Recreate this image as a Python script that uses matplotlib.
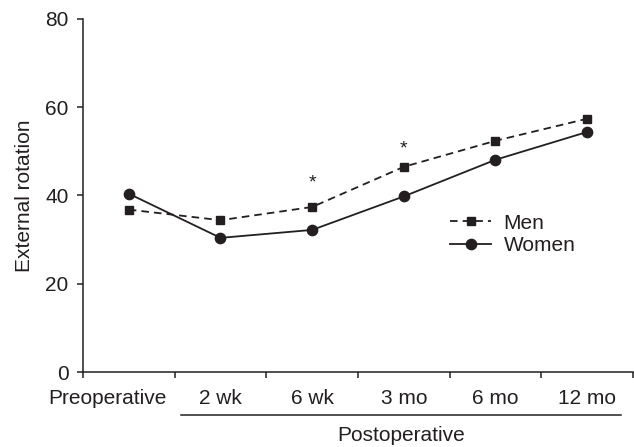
import matplotlib
matplotlib.use("Agg")
import matplotlib.pyplot as plt

categories = ["Preoperative", "2 wk", "6 wk", "3 mo", "6 mo", "12 mo"]
men = [36.8, 34.4, 37.4, 46.5, 52.4, 57.4]
women = [40.4, 30.4, 32.2, 39.8, 48.1, 54.4]
star_idx = [2, 3]
star_y = [42.8, 50.5]
yticks = [0, 20, 40, 60, 80]

C = "#231f20"
FS = 15
plt.rcParams['font.family'] = ['Liberation Sans', 'DejaVu Sans']

fig = plt.figure(figsize=(6.34, 4.47), dpi=100)
ax = fig.add_axes([83/634, 1-372/447, (633-83)/634, (372-19)/447])

x = list(range(len(categories)))
ax.plot(x, men, color=C, lw=1.3, ls=(0, (4.2, 2.8)), marker='s', ms=6.2, label="Men")
ax.plot(x, women, color=C, lw=1.3, ls='-', marker='o', ms=7.4, label="Women")
for i, yv in zip(star_idx, star_y):
    ax.text(i, yv, "*", ha='center', va='center', fontsize=FS - 1, color=C)

ax.set_xlim(-0.5, len(categories) - 0.5)
ax.set_ylim(0, 80)
ax.set_yticks(yticks)
ax.set_xticks([i + 0.5 for i in range(-1, len(categories))])
ax.set_xticklabels([])
for s in ['top', 'right']:
    ax.spines[s].set_visible(False)
for s in ['left', 'bottom']:
    ax.spines[s].set_color(C)
    ax.spines[s].set_linewidth(1.1)
ax.tick_params(axis='both', direction='out', length=4.5, width=1.1, color=C,
               labelsize=FS, labelcolor=C)
ax.tick_params(axis='y', pad=6)

for i, lab in enumerate(categories):
    if i == 0:
        ax.text(0.41, -5.9, lab, ha='right', va='center', fontsize=FS, color=C)
    else:
        ax.text(i, -5.9, lab, ha='center', va='center', fontsize=FS, color=C)

# Postoperative bracket line
ax.plot([0.57, 5.37], [-9.8, -9.8], color=C, lw=1.1, clip_on=False)
ax.text((0.57 + 5.37) / 2, -14.5, "Postoperative", ha='center', va='center',
        fontsize=FS, color=C)

ax.set_ylabel("External rotation", fontsize=FS, color=C, labelpad=8)

leg = ax.legend(loc='center left', bbox_to_anchor=(0.668, 0.39), frameon=False,
                fontsize=FS, handlelength=1.95, handletextpad=0.6,
                labelspacing=0.15, borderaxespad=0, borderpad=0)
for t in leg.get_texts():
    t.set_color(C)

fig.savefig("out.png", dpi=100)
